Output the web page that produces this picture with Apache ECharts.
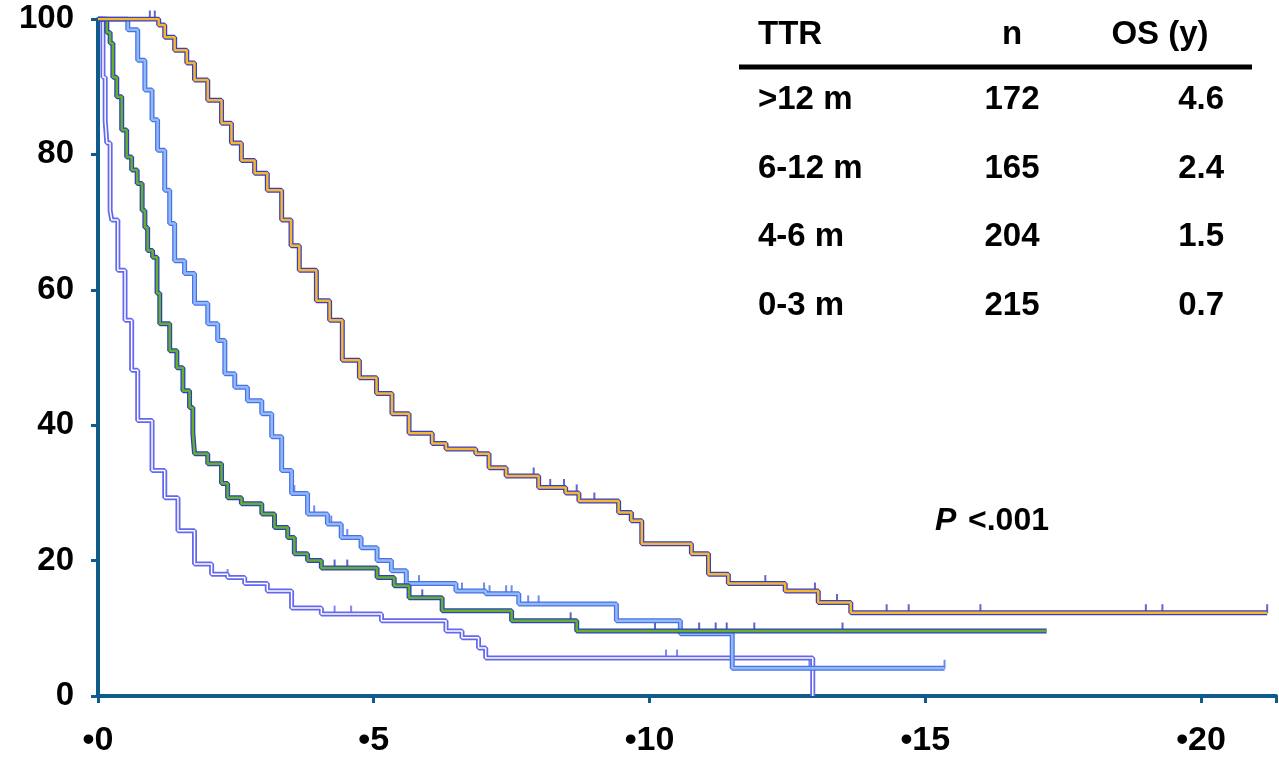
<!DOCTYPE html>
<html>
<head>
<meta charset="utf-8">
<script src="https://cdn.jsdelivr.net/npm/echarts@6/dist/echarts.min.js"></script>
<style>
  html, body { margin: 0; padding: 0; background: #fff; }
  #chart { width: 1279px; height: 758px; }
</style>
</head>
<body>
<div id="chart"></div>
<script>
// survival curves [years, % alive]
var survOver12 = [[0,100],[1.1,99.1],[1.21,97.3],[1.39,95.4],[1.61,93.5],[1.75,91],[1.99,88],[2.24,84.6],[2.42,81.7],[2.6,79.1],[2.84,77.2],[3.07,74.7],[3.33,70.3],[3.5,66.5],[3.65,62.9],[3.96,58.4],[4.2,55.5],[4.43,49.6],[4.74,47],[5.05,44.7],[5.33,41.7],[5.64,38.8],[6.06,37.3],[6.31,36.5],[6.85,35.8],[7.09,33.7],[7.4,32.5],[7.99,30.8],[8.48,30],[8.72,28.8],[9.44,27.1],[9.67,25.9],[9.86,22.5],[10.76,21],[11.07,18],[11.43,16.6],[12.46,15.5],[13.06,13.8],[13.65,12.3],[21.2,12.3]];
var surv6to12 = [[0,100],[0.4,100],[0.54,98.4],[0.72,93.9],[0.85,89.5],[0.98,85.1],[1.08,80.6],[1.21,74.7],[1.3,69.8],[1.39,64.3],[1.57,62.4],[1.75,58],[1.99,55],[2.17,52.5],[2.3,47.6],[2.48,45.6],[2.71,43.6],[2.97,41.7],[3.15,38.3],[3.33,33.3],[3.51,29.9],[3.8,26.9],[4.16,25.4],[4.41,23.4],[4.77,21.9],[5.06,20],[5.32,18.5],[5.59,16.6],[6.49,15.5],[7.03,15.1],[7.63,13.6],[9.4,11.1],[10.56,9.2],[11.5,4.1],[15.35,4.1]];
var surv4to6 = [[0,100],[0.16,98],[0.22,96.4],[0.27,91.4],[0.34,88.5],[0.43,83.6],[0.52,79.6],[0.61,77.7],[0.71,75.7],[0.8,71.7],[0.85,69.2],[0.9,65.8],[0.99,64.8],[1.07,59.5],[1.12,55],[1.3,51],[1.43,48.5],[1.54,45.1],[1.66,42.6],[1.72,38.8],[1.75,35.8],[1.99,34.3],[2.24,31.4],[2.35,29.3],[2.6,28.4],[2.97,26.9],[3.2,24.9],[3.44,23.4],[3.56,21],[3.8,20],[4.05,18.9],[5.06,17.5],[5.37,16.3],[5.64,14.5],[6.24,12.6],[7.5,11.1],[8.68,9.6],[17.2,9.6]];
var survUnder3 = [[0,100],[0.09,91.4],[0.13,85],[0.16,81.7],[0.22,71.7],[0.25,70.3],[0.36,62.9],[0.49,55.5],[0.61,48.1],[0.72,40.7],[0.98,33.3],[1.21,29.3],[1.45,24.4],[1.75,19.5],[2.06,18],[2.35,17.5],[2.66,16.6],[3.07,15.5],[3.51,13],[4.05,12.1],[5.14,11.1],[6.31,9.6],[6.6,8.6],[6.9,7.1],[7.03,5.6],[12.96,5.6],[12.96,0]];

// censor marks (years)
var censorOver12 = [0.94,1.03,7.4,7.9,8.2,8.45,8.68,9.0,9.7,12.1,13.0,13.4,14.3,14.7,16.0,19.0,19.3,21.2];
var censor6to12 = [3.56,3.92,4.23,4.52,4.77,5.82,6.6,7.0,7.1,7.4,7.5,7.8,7.99,12.9,15.35];
var censor4to6 = [4.29,4.52,5.88,8.57,10.1,10.9,11.2,11.4,11.9,13.5];
var censorUnder3 = [2.06,2.35,4.29,4.59,10.3,10.5];

// table
var tableHead = ['TTR', 'n', 'OS (y)'];
var ttrGroups = ['>12 m', '6-12 m', '4-6 m', '0-3 m'];
var nValues = ['172', '165', '204', '215'];
var osYears = ['4.6', '2.4', '1.5', '0.7'];
var pText = '<.001';

var xTicks = [0, 5, 10, 15, 20];

var survAt = function (curve, t) {
  var v = curve[0][1];
  for (var i = 0; i < curve.length; i++) {
    if (curve[i][0] <= t) v = curve[i][1];
  }
  return v;
};

var curveSeries = function (data, outline, center, centerWidth) {
  return [
    { type: 'line', step: 'end', data: data, symbol: 'none', silent: true,
      lineStyle: { color: outline, width: 5 } },
    { type: 'line', step: 'end', data: data, symbol: 'none', silent: true,
      lineStyle: { color: center, width: centerWidth } }
  ];
};

var censorSeries = function (curve, times, color) {
  return {
    type: 'scatter',
    data: times.map(function (t) { return [t, survAt(curve, t)]; }),
    symbol: 'rect',
    symbolSize: [2, 9],
    symbolOffset: [0, -4],
    silent: true,
    itemStyle: { color: color }
  };
};

var font = "bold 33px 'Liberation Sans', Arial, sans-serif";
var graphics = [];
var headX = [758, 1012, 1160];
var headAlign = ['left', 'center', 'center'];
var colX = [758, 1012, 1224];
var colAlign = ['left', 'center', 'right'];
tableHead.forEach(function (h, i) {
  graphics.push({ type: 'text', x: headX[i], y: 35,
    style: { text: h, font: font, fill: '#000', textAlign: headAlign[i], textVerticalAlign: 'middle' } });
});
graphics.push({ type: 'line', shape: { x1: 739, y1: 67, x2: 1252, y2: 67 },
  style: { stroke: '#000', lineWidth: 5 } });
ttrGroups.forEach(function (g, r) {
  var y = 100 + r * 68.5;
  [g, nValues[r], osYears[r]].forEach(function (txt, i) {
    graphics.push({ type: 'text', x: colX[i], y: y,
      style: { text: txt, font: font, fill: '#000', textAlign: colAlign[i], textVerticalAlign: 'middle' } });
  });
});
graphics.push({ type: 'text', x: 935, y: 521,
  style: { text: 'P', font: "italic bold 32px 'Liberation Sans', Arial, sans-serif", fill: '#000', textVerticalAlign: 'middle' } });
graphics.push({ type: 'text', x: 968, y: 521,
  style: { text: pText, font: "bold 32px 'Liberation Sans', Arial, sans-serif", fill: '#000', textVerticalAlign: 'middle' } });

var axisColor = '#0f5c8a';
var myCharts = echarts.init(document.getElementById('chart'));
var options = {
  animation: false,
  grid: { left: 98, right: 0, top: 19, bottom: 62 },
  xAxis: {
    type: 'value',
    min: 0,
    max: 21.36,
    interval: 5,
    splitLine: { show: false },
    axisLine: { lineStyle: { color: axisColor, width: 4 } },
    axisTick: { length: 7, lineStyle: { color: axisColor, width: 3 } },
    axisLabel: {
      margin: 28,
      color: '#000',
      fontSize: 34,
      fontWeight: 'bold',
      fontFamily: 'Liberation Sans',
      formatter: function (v) { return xTicks.indexOf(v) >= 0 ? '\u2022' + v : ''; }
    }
  },
  yAxis: {
    type: 'value',
    min: 0,
    max: 100,
    interval: 20,
    splitLine: { show: false },
    axisLine: { show: true, lineStyle: { color: axisColor, width: 4 } },
    axisTick: { show: true, length: 7, lineStyle: { color: axisColor, width: 3 } },
    axisLabel: {
      margin: 24,
      color: '#000',
      fontSize: 33,
      fontWeight: 'bold',
      fontFamily: 'Liberation Sans'
    }
  },
  graphic: graphics,
  series: [].concat(
    curveSeries(survUnder3, '#6468ee', '#ffffff', 1.5),
    [censorSeries(survUnder3, censorUnder3, '#6468ee')],
    curveSeries(surv6to12, '#4b6fe6', '#8ebbf8', 2.5),
    [censorSeries(surv6to12, censor6to12, '#4b6fe6')],
    curveSeries(surv4to6, '#2f3fbf', '#63b12b', 2.5),
    [censorSeries(surv4to6, censor4to6, '#2f3fbf')],
    curveSeries(survOver12, '#3a3fc2', '#f5b730', 2.5),
    [censorSeries(survOver12, censorOver12, '#3a3fc2')]
  )
};

myCharts.setOption(options);
</script>
</body>
</html>
